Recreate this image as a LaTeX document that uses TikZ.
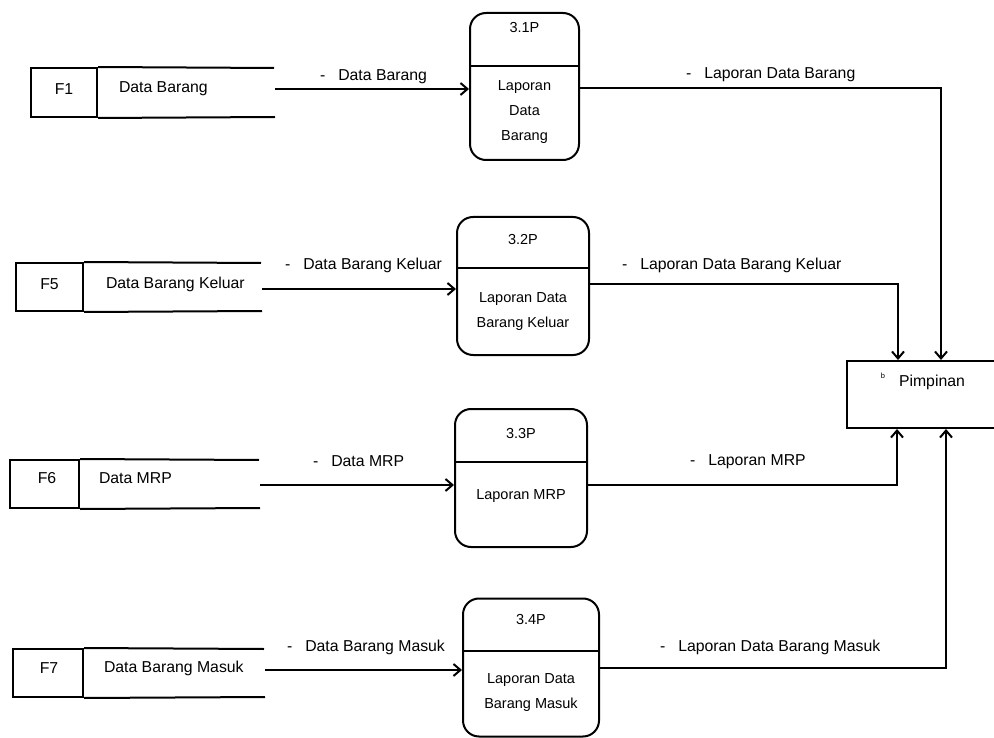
\documentclass[tikz,border=0pt]{standalone}
\usepackage{fontspec}
\setmainfont{Liberation Sans}
\usetikzlibrary{arrows.meta}
\begin{document}
\begin{tikzpicture}[x=1pt,y=-1pt,
  line width=2pt,
  flow/.style={-{Straight Barb[length=7pt,width=12pt,line width=2pt]}},
  proc/.style={draw, rounded corners=16pt, inner sep=0pt},
  ptext/.style={font=\fontsize{14.5}{25}\selectfont, align=center, inner sep=0pt},
  stext/.style={font=\fontsize{15.8}{18}\selectfont, inner sep=0pt},
  idbox/.style={draw, inner sep=0pt},
  lbl/.style={font=\fontsize{15.8}{18}\selectfont, anchor=west, inner sep=0pt},
]
\useasboundingbox (0,0) rectangle (994,738);
\clip (0,0) rectangle (994,738);

% ---------- data stores ----------
% F1
\node[idbox, minimum width=66pt, minimum height=49pt] (f1) at (64,92.5) {};
\node[stext] (f1id) at (64,89) {F1};
\node[stext, anchor=west] (f1t) at (118,89) {Data Barang};
\draw (f1.north east) -- (274,68);
\draw (f1.south east) -- (275,117);
\coordinate (f1e) at (275,89);

% F5
\node[idbox, minimum width=67pt, minimum height=48pt] (f5) at (49.5,287) {};
\node[stext] (f5id) at (49.5,284) {F5};
\node[stext, anchor=west] (f5t) at (105,284) {Data Barang Keluar};
\draw (f5.north east) -- (261,263);
\draw (f5.south east) -- (262,311);
\coordinate (f5e) at (262,289);

% F6
\node[idbox, minimum width=69pt, minimum height=48pt] (f6) at (44.5,484) {};
\node[stext] (f6id) at (47,478) {F6};
\node[stext, anchor=west] (f6t) at (98,478) {Data MRP};
\draw (f6.north east) -- (259,460);
\draw (f6.south east) -- (260,508);
\coordinate (f6e) at (260,485);

% F7
\node[idbox, minimum width=70pt, minimum height=48pt] (f7) at (48,673) {};
\node[stext] (f7id) at (49,668) {F7};
\node[stext, anchor=west] (f7t) at (103,668) {Data Barang Masuk};
\draw (f7.north east) -- (264,649);
\draw (f7.south east) -- (265,697);
\coordinate (f7e) at (265,670);

% ---------- processes ----------
% 3.1P
\node[proc, minimum width=109pt, minimum height=147pt] (p1) at (524.5,86.5) {};
\draw (p1.west |- 0,66) -- (p1.east |- 0,66);
\node[ptext] (p1id) at (p1.center |- 0,28) {3.1P};
\node[ptext] (p1t) at (p1.center |- 0,112) {Laporan\\Data\\Barang};

% 3.2P
\node[proc, minimum width=132pt, minimum height=138pt] (p2) at (523,286) {};
\draw (p2.west |- 0,268) -- (p2.east |- 0,268);
\node[ptext] (p2id) at (p2.center |- 0,240) {3.2P};
\node[ptext] (p2t) at (p2.center |- 0,312) {Laporan Data\\Barang Keluar};

% 3.3P
\node[proc, minimum width=132pt, minimum height=138pt] (p3) at (521,478) {};
\draw (p3.west |- 0,462) -- (p3.east |- 0,462);
\node[ptext] (p3id) at (p3.center |- 0,434) {3.3P};
\node[ptext] (p3t) at (p3.center |- 0,496) {Laporan MRP};

% 3.4P
\node[proc, minimum width=136pt, minimum height=138pt] (p4) at (531,667.5) {};
\draw (p4.west |- 0,651) -- (p4.east |- 0,651);
\node[ptext] (p4id) at (p4.center |- 0,620) {3.4P};
\node[ptext] (p4t) at (p4.center |- 0,693) {Laporan Data\\Barang Masuk};

% ---------- external entity ----------
\node[draw, inner sep=0pt, minimum width=153pt, minimum height=67pt] (pim) at (923.5,394.5) {};
\node[font=\fontsize{15.8}{18}\selectfont, anchor=west, inner sep=0pt] (pimt) at (898,382) {Pimpinan};
\node[font=\fontsize{7.5}{9}\selectfont, inner sep=0pt] (pimb) at (883,376) {b};

% ---------- flows ----------
\draw[flow] (f1e) -- (f1e -| p1.west);
\draw[flow] (f5e) -- (f5e -| p2.west);
\draw[flow] (f6e) -- (f6e -| p3.west);
\draw[flow] (f7e) -- (f7e -| p4.west);

\draw[flow] (p1.east |- 0,88) -| ([xshift=17.5pt]pim.north);
\draw[flow] (p2.east |- 0,284) -| ([xshift=-25.5pt]pim.north);
\draw[flow] (p3.east |- 0,485) -| ([xshift=-26.5pt]pim.south);
\draw[flow] (p4.east |- 0,668) -| ([xshift=22.5pt]pim.south);

% ---------- flow labels ----------
\node[lbl] (l1) at (319,77) {-\hspace{13pt}Data Barang};
\node[lbl] (l2) at (685,75) {-\hspace{13pt}Laporan Data Barang};
\node[lbl] (l3) at (284,265) {-\hspace{13pt}Data Barang Keluar};
\node[lbl] (l4) at (621,265) {-\hspace{13pt}Laporan Data Barang Keluar};
\node[lbl] (l5) at (312,461) {-\hspace{13pt}Data MRP};
\node[lbl] (l6) at (689,462) {-\hspace{13pt}Laporan MRP};
\node[lbl] (l7) at (286,647) {-\hspace{13pt}Data Barang Masuk};
\node[lbl] (l8) at (659,647) {-\hspace{13pt}Laporan Data Barang Masuk};
\end{tikzpicture}
\end{document}
